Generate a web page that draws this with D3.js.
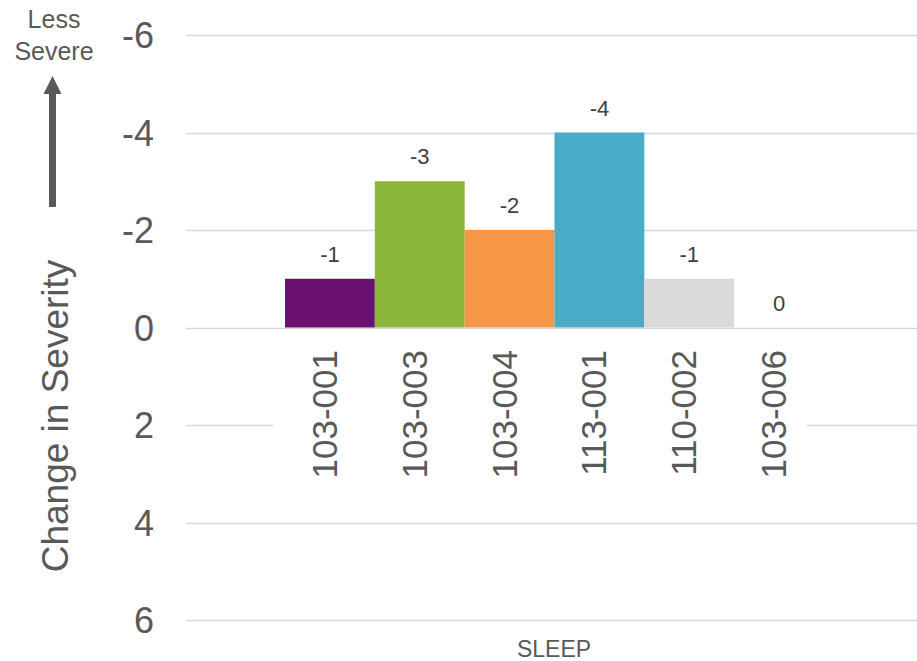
<!DOCTYPE html>
<html>
<head>
<meta charset="utf-8">
<script src="https://cdn.jsdelivr.net/npm/d3@7"></script>
<style>
  html, body { margin: 0; padding: 0; background: #fff; }
  svg { display: block; font-family: Arial, "Liberation Sans", sans-serif; }
</style>
</head>
<body>
<svg id="chart" width="917" height="661"></svg>
<script>
// Per-participant change in SLEEP severity (negative = less severe)
const participants = ["103-001", "103-003", "103-004", "113-001", "110-002", "103-006"];
const changes = [-1, -3, -2, -4, -1, 0];
const barColors = ["#6b1170", "#8cb73a", "#f69647", "#4aabc6", "#d9d9d9", "#a5a5a5"];
const yTicks = [-6, -4, -2, 0, 2, 4, 6];
const groupLabel = "SLEEP";
const yTitle = "Change in Severity";
const arrowLabel = ["Less", "Severe"];

const svg = d3.select("#chart");
const textColor = "#595959";
const gridColor = "#d9d9d9";

const plotLeft = 186, plotRight = 917;

// Inverted value axis: -6 at the top, 6 at the bottom
const y = d3.scaleLinear().domain([-6, 6]).range([35, 620]);

const x = d3.scaleBand()
  .domain(participants)
  .range([285, 824])
  .padding(0);

// Gridlines
svg.append("g")
  .selectAll("line")
  .data(yTicks)
  .join("line")
  .attr("x1", plotLeft)
  .attr("x2", plotRight)
  .attr("y1", d => Math.round(y(d)) + 0.5)
  .attr("y2", d => Math.round(y(d)) + 0.5)
  .attr("stroke", gridColor)
  .attr("stroke-width", 1.3);

// Tick labels
svg.append("g")
  .selectAll("text")
  .data(yTicks)
  .join("text")
  .attr("x", 154)
  .attr("y", d => y(d) + 13)
  .attr("text-anchor", "end")
  .attr("font-size", 36)
  .attr("fill", textColor)
  .text(d => d);

// Bars (grow from zero toward the value)
const data = participants.map((p, i) => ({ p, v: changes[i], c: barColors[i] }));
svg.append("g")
  .selectAll("rect")
  .data(data)
  .join("rect")
  .attr("x", d => x(d.p))
  .attr("width", x.bandwidth())
  .attr("y", d => Math.min(y(d.v), y(0)))
  .attr("height", d => Math.abs(y(d.v) - y(0)))
  .attr("fill", d => d.c);

// Value labels above each bar
svg.append("g")
  .selectAll("text")
  .data(data)
  .join("text")
  .attr("x", d => x(d.p) + x.bandwidth() / 2)
  .attr("y", d => Math.min(y(d.v), y(0)) - 17)
  .attr("text-anchor", "middle")
  .attr("font-size", 22)
  .attr("fill", "#404040")
  .text(d => d.v);

// White backing behind the rotated category labels
svg.append("rect")
  .attr("x", 273)
  .attr("y", 340)
  .attr("width", 807 - 273)
  .attr("height", 145)
  .attr("fill", "#fff");

// Rotated category labels
svg.append("g")
  .selectAll("text")
  .data(participants)
  .join("text")
  .attr("transform", d => `translate(${x(d) + x.bandwidth() / 2 + 7},350) rotate(-90)`)
  .attr("text-anchor", "end")
  .attr("font-size", 35)
  .attr("fill", textColor)
  .text(d => d);

// Group label
svg.append("text")
  .attr("x", 554)
  .attr("y", 657)
  .attr("text-anchor", "middle")
  .attr("font-size", 23)
  .attr("fill", textColor)
  .text(groupLabel);

// Y-axis title
svg.append("text")
  .attr("transform", "translate(68,416) rotate(-90)")
  .attr("text-anchor", "middle")
  .attr("font-size", 37)
  .attr("fill", textColor)
  .text(yTitle);

// Direction arrow with caption
svg.append("rect")
  .attr("x", 49)
  .attr("y", 92)
  .attr("width", 7)
  .attr("height", 115)
  .attr("fill", textColor);
svg.append("path")
  .attr("d", "M52.5,76 L61.5,94 L43.5,94 Z")
  .attr("fill", textColor);

svg.append("g")
  .selectAll("text")
  .data(arrowLabel)
  .join("text")
  .attr("x", 54)
  .attr("y", (d, i) => 28 + i * 32)
  .attr("text-anchor", "middle")
  .attr("font-size", 25)
  .attr("fill", textColor)
  .text(d => d);
</script>
</body>
</html>
